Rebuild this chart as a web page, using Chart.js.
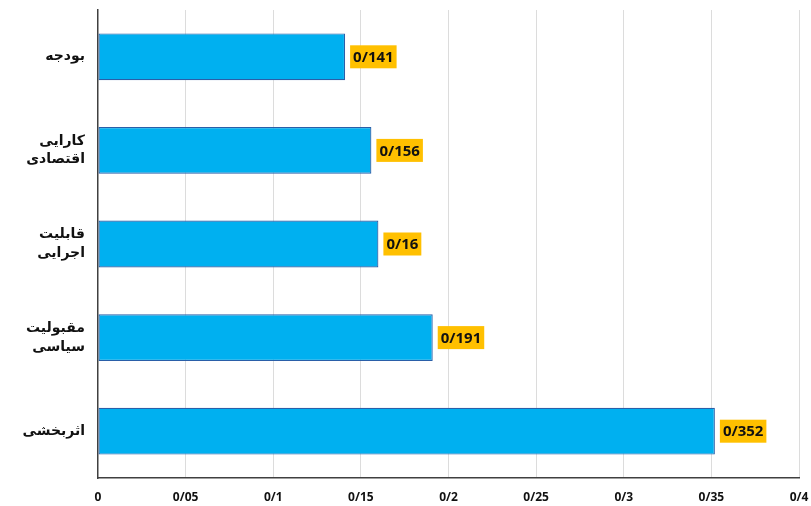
<!DOCTYPE html>
<html>
<head>
<meta charset="utf-8">
<script src="https://cdn.jsdelivr.net/npm/chart.js@4/dist/chart.umd.min.js"></script>
<style>
  html, body { margin: 0; padding: 0; background: #fff; }
  #wrap { width: 811px; height: 506px; }
</style>
</head>
<body>
<div id="wrap"><canvas id="barChart"></canvas></div>
<script>
// Datos del gráfico
var categorias = [
    'بودجه',
    ['کارایی', 'اقتصادی'],
    ['قابلیت', 'اجرایی'],
    ['مقبولیت', 'سیاسی'],
    'اثربخشی'
];
var valores = [0.141, 0.156, 0.16, 0.191, 0.352];
var ticksX = [0, 0.05, 0.1, 0.15, 0.2, 0.25, 0.3, 0.35, 0.4];

// decimal con barra, como en el original
function formato(v) {
    return String(+v.toFixed(3)).replace('.', '/');
}

// Etiquetas amarillas al final de cada barra
var etiquetasPlugin = {
    id: 'etiquetas',
    afterDatasetsDraw: function (chart) {
        var ctx = chart.ctx;
        var meta = chart.getDatasetMeta(0);
        ctx.save();
        ctx.font = 'bold 15px "Open Sans", "Liberation Sans", sans-serif';
        ctx.textBaseline = 'middle';
        meta.data.forEach(function (bar, i) {
            var txt = formato(valores[i]);
            var w = ctx.measureText(txt).width + 6;
            var x = bar.x + 5;
            var y = bar.y;
            ctx.fillStyle = '#FFC000';
            ctx.fillRect(x, y - 11.5, w, 23);
            ctx.fillStyle = '#111';
            ctx.fillText(txt, x + 3, y + 1);
        });
        ctx.restore();
    }
};

var ctx = document.getElementById('barChart');
new Chart(ctx.getContext('2d'), {
    type: 'bar',
    data: {
        labels: categorias,
        datasets: [{
            data: valores,
            backgroundColor: '#00B0F0',
            borderColor: '#2A5FA8',
            borderWidth: 1.2,
            borderSkipped: false,
            barPercentage: 0.5,
            categoryPercentage: 1
        }]
    },
    options: {
        indexAxis: 'y',
        responsive: true,
        maintainAspectRatio: false,
        animation: false,
        layout: { padding: { top: 10, right: 12, left: 0, bottom: 0 } },
        plugins: {
            legend: { display: false },
            tooltip: { enabled: false }
        },
        scales: {
            x: {
                min: 0,
                max: 0.4,
                afterBuildTicks: function (axis) {
                    axis.ticks = ticksX.map(function (v) { return { value: v }; });
                },
                afterFit: function (axis) {
                    axis.height = 28;
                    axis.paddingLeft = 0;
                    axis.paddingRight = 0;
                },
                grid: {
                    color: function (c) { return c.tick && c.tick.value === 0 ? 'rgba(0,0,0,0)' : '#DCDCDC'; },
                    drawTicks: false
                },
                border: { color: '#404040', width: 1.5 },
                ticks: {
                    color: '#111',
                    padding: 12,
                    maxRotation: 0,
                    font: { family: '"Open Sans", "Liberation Sans", sans-serif', weight: 'bold', size: 12 },
                    callback: function (v) { return formato(v); }
                }
            },
            y: {
                afterFit: function (axis) {
                    axis.width = 98;
                    axis.paddingTop = 0;
                    axis.paddingBottom = 0;
                },
                grid: { display: false, drawTicks: false },
                border: { color: '#404040', width: 1.5 },
                ticks: {
                    color: '#111',
                    padding: 13,
                    font: { family: '"DejaVu Sans", sans-serif', weight: 'bold', size: 14, lineHeight: 1.35 }
                }
            }
        }
    },
    plugins: [etiquetasPlugin]
});
</script>
</body>
</html>
